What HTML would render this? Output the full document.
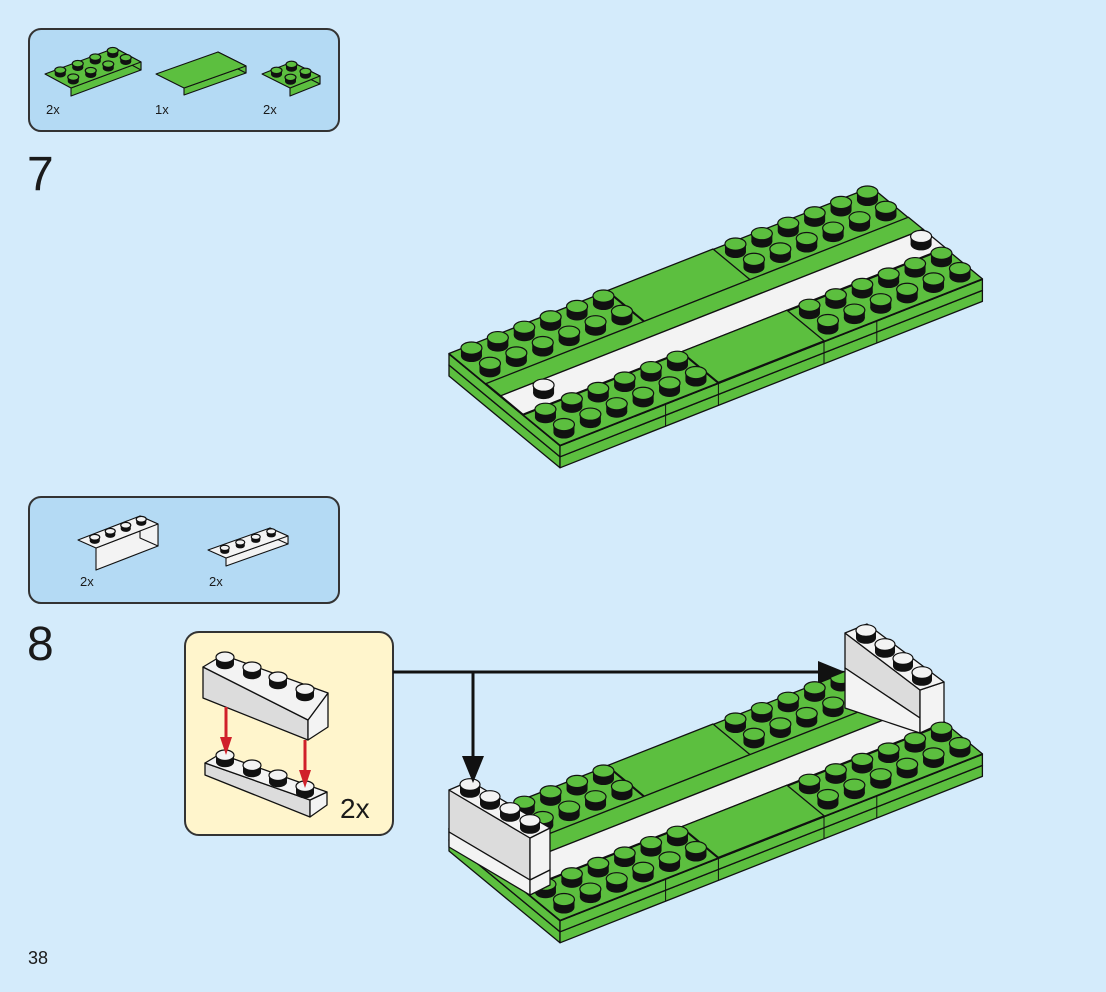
<!DOCTYPE html>
<html><head><meta charset="utf-8">
<style>
html,body{margin:0;padding:0;background:#d4ebfb;}
svg{display:block;}
text{font-family:"Liberation Sans","DejaVu Sans",sans-serif;fill:#1a1a1a;}
</style></head>
<body>
<svg id="s" xmlns="http://www.w3.org/2000/svg" width="1106" height="992" viewBox="0 0 1106 992">
<rect width="1106" height="992" fill="#d4ebfb"/>
<rect x="29" y="29" width="310" height="102" rx="12" fill="#b4daf4" stroke="#333" stroke-width="2"/>
<text x="46" y="114" font-size="13">2x</text>
<text x="155" y="114" font-size="13">1x</text>
<text x="263" y="114" font-size="13">2x</text>
<text x="27" y="190" font-size="48">7</text>
<rect x="29" y="497" width="310" height="106" rx="12" fill="#b4daf4" stroke="#333" stroke-width="2"/>
<text x="80" y="586" font-size="13">2x</text>
<text x="209" y="586" font-size="13">2x</text>
<text x="27" y="660" font-size="48">8</text>
<text x="28" y="964" font-size="18">38</text>
<rect x="185" y="632" width="208" height="203" rx="14" fill="#fff5cc" stroke="#333" stroke-width="2"/>
<text x="340" y="818" font-size="28">2x</text>
<g id="g"></g>
<g stroke="#111" stroke-width="3" fill="none">
<line x1="393" y1="672" x2="822" y2="672"/>
<line x1="473" y1="672" x2="473" y2="760"/>
</g>
<polygon points="845,672 818,661 818,683" fill="#111"/>
<polygon points="473,783 462,756 484,756" fill="#111"/>
</svg>
<script>
const NS="http://www.w3.org/2000/svg";
const G=document.getElementById('g');
const GR='#5cbf3f',GR2='#4fae34',WH='#f3f3f3',WH2='#dcdcdc';
function el(t,a){const e=document.createElementNS(NS,t);for(const k in a)e.setAttribute(k,a[k]);G.appendChild(e);return e;}
function poly(p,f,sw){el('polygon',{points:p.map(q=>q[0].toFixed(1)+','+q[1].toFixed(1)).join(' '),fill:f,stroke:'#111','stroke-width':sw||1.3,'stroke-linejoin':'round'});}
function stud(x,y,c,r){r=r||10.5;const ry=r*0.58,h=r*0.75;
 el('ellipse',{cx:x,cy:y,rx:r,ry:ry,fill:'#111'});
 el('rect',{x:x-r,y:y-h,width:2*r,height:h,fill:'#111'});
 el('ellipse',{cx:x,cy:y-h,rx:r,ry:ry,fill:c,stroke:'#111','stroke-width':1.2});}
function mk(oy){
 const P=(a,b,z)=>[449+26.4*a+18.5*b,354+oy-10.4*a+15.3*b-z];
 function box(a0,a1,b0,b1,z0,z1,t,f,l){
  poly([P(a0,b0,z1),P(a0,b1,z1),P(a0,b1,z0),P(a0,b0,z0)],l);
  poly([P(a0,b1,z1),P(a1,b1,z1),P(a1,b1,z0),P(a0,b1,z0)],f);
  poly([P(a0,b0,z1),P(a1,b0,z1),P(a1,b1,z1),P(a0,b1,z1)],t);}
 return {P,box};
}
function model(oy,step8){
 const {P,box}=mk(oy);
 box(0,16,0,6,-22,-11,GR,GR,GR);
 box(0,16,0,6,-11,0,GR,GR,GR);
 [4,6,10,12].forEach(a=>{const p=P(a,6,0),q=P(a,6,-22);el('line',{x1:p[0],y1:p[1],x2:q[0],y2:q[1],stroke:'#111','stroke-width':1});});
 box(0,6,0,2,0,0.5,GR,GR,GR);box(10,16,0,2,0,0.5,GR,GR,GR);
 box(0,6,4,6,0,0.5,GR,GR,GR);box(10,16,4,6,0,0.5,GR,GR,GR);
 box(6,10,0,2,0,1,GR,GR,GR);
 box(0,16,2,2.8,0,1,GR,GR,GR);
 box(0,16,2.8,4,0,1,WH,WH,WH);
 box(6,10,4,6,0,1,GR,GR2,GR);
 const back=[],front=[];
 for(const b of [0.5,1.5])for(let a=0.5;a<6;a++){back.push([a,b]);back.push([a+10,b]);}
 for(const b of [4.5,5.5])for(let a=0.5;a<6;a++){front.push([a,b]);front.push([a+10,b]);}
 const ds=(arr,c)=>arr.map(s=>P(s[0],s[1],0.5)).sort((x,y)=>x[1]-y[1]).forEach(p=>stud(p[0],p[1],c));
 ds(back,GR);
 if(!step8){ds([[1.2,3.4],[15.5,3.4]],WH);}
 if(step8){
  poly([[845,633],[920,690],[920,718],[845,668]],WH2);
  poly([[845,668],[920,718],[920,733],[845,708]],WH);
  poly([[920,690],[944,682],[944,722],[920,733]],WH);
  poly([[845,633],[867,624],[944,682],[920,690]],WH);
  [[866,638],[885,652],[903,666],[922,680]].forEach(p=>stud(p[0],p[1],WH,10));
 }
 ds(front,GR);
 if(step8){
  poly([[449,790],[530,838],[530,880],[449,832]],WH2);
  poly([[449,832],[530,880],[530,895],[449,847]],WH);
  poly([[530,838],[550,828],[550,870],[530,880]],WH);
  poly([[530,880],[550,870],[550,885],[530,895]],WH);
  poly([[449,790],[470,781],[550,828],[530,838]],WH);
  [[470,792],[490,804],[510,816],[530,828]].forEach(p=>stud(p[0],p[1],WH,10));
 }
}
model(0,false);
model(475,true);
poly([[203,667],[308,720],[308,740],[203,698]],WH2);
poly([[308,720],[328,693],[328,727],[308,740]],WH);
poly([[203,667],[223,655],[328,693],[308,720]],WH);
[[225,664],[252,674],[278,684],[305,696]].forEach(p=>stud(p[0],p[1],WH,9));
poly([[205,763],[310,800],[310,817],[205,775]],WH2);
poly([[310,800],[327,792],[327,805],[310,817]],WH);
poly([[205,763],[220,754],[327,792],[310,800]],WH);
[[225,762],[252,772],[278,782],[305,793]].forEach(p=>stud(p[0],p[1],WH,9));
el('line',{x1:226,y1:707,x2:226,y2:740,stroke:'#d0202a','stroke-width':3});
el('polygon',{points:'226,755 220,737 232,737',fill:'#d0202a'});
el('line',{x1:305,y1:740,x2:305,y2:773,stroke:'#d0202a','stroke-width':3});
el('polygon',{points:'305,788 299,770 311,770',fill:'#d0202a'});
function pl(ax,ay,ux,uy,vx,vy,h,c,studs,r){
 const A=[ax,ay],B=[ax+ux,ay+uy],C=[ax+ux+vx,ay+uy+vy],D=[ax+vx,ay+vy];
 poly([D,C,[C[0],C[1]+h],[D[0],D[1]+h]],c,1.1);
 poly([C,B,[B[0],B[1]+h],[C[0],C[1]+h]],c,1.1);
 poly([A,B,C,D],c,1.1);
 if(studs){const [nu,nv]=studs;const pts=[];for(let i=0;i<nu;i++)for(let j=0;j<nv;j++){const s=(i+.5)/nu,t=(j+.5)/nv;pts.push([ax+ux*s+vx*t,ay+uy*s+vy*t]);}
  pts.sort((p,q)=>p[1]-q[1]).forEach(p=>stud(p[0],p[1],c,r||5.5));}
}
pl(45,74,70,-26,26,14,8,GR,[4,2]);
pl(156,74,62,-22,28,14,7,GR,null);
pl(262,74,30,-12,28,14,8,GR,[2,2]);
pl(78,540,62,-24,18,8,22,WH,[4,1],5);
pl(208,550,62,-22,18,8,8,WH,[4,1],4.5);
</script>
</body></html>
